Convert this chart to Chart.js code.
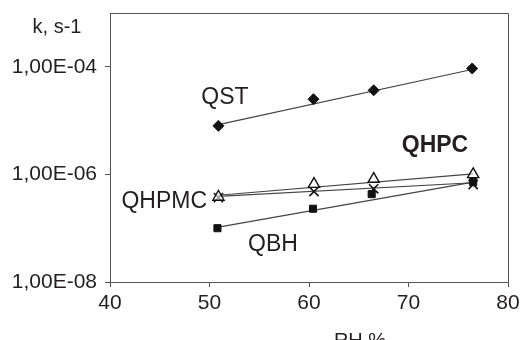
<!DOCTYPE html>
<html>
<head>
<meta charset="utf-8">
<script src="https://cdn.jsdelivr.net/npm/chart.js@4"></script>
<style>
  body { margin: 0; background: #fff; }
</style>
</head>
<body>
<canvas id="rhChart" width="531" height="340"></canvas>
<script>
// RH % values for each sample point
const rhQST = [50.9, 60.45, 66.5, 76.4];
const rhQHPC = [50.9, 60.5, 66.5, 76.5];
const rhQHPMC = [50.9, 60.5, 66.5, 76.5];
const rhQBH = [50.8, 60.4, 66.3, 76.5];

// rate constants k (s-1)
const kQST = [8.0e-6, 2.5e-5, 3.66e-5, 9.3e-5];
const kQHPC = [3.8e-7, 6.6e-7, 8.2e-7, 1.0e-6];
const kQHPMC = [3.7e-7, 4.8e-7, 5.4e-7, 6.5e-7];
const kQBH = [1.0e-7, 2.3e-7, 4.3e-7, 7.2e-7];

// trend lines, first and last point
const trendRH = [50.9, 76.5];
const trendQST = [8.4e-6, 9.0e-5];
const trendQHPC = [4.1e-7, 1.02e-6];
const trendQHPMC = [3.9e-7, 7.0e-7];
const trendQBH = [1.05e-7, 7.2e-7];

const yTickValues = [1e-8, 1e-6, 1e-4];
const yTickLabels = ['1,00E-08', '1,00E-06', '1,00E-04'];

const FONT = '"Liberation Sans", Arial, sans-serif';
const INK = '#231f20';
const AXIS = '#555';

function pts(xs, ys) {
  return xs.map((x, i) => ({ x: x, y: ys[i] }));
}

function trend(ys) {
  return {
    data: pts(trendRH, ys),
    showLine: true,
    borderColor: '#444',
    borderWidth: 1.2,
    pointRadius: 0,
    order: 2
  };
}

// labels drawn on the canvas (series names, axis titles, frame)
const textPlugin = {
  id: 'texts',
  afterDatasetsDraw(chart) {
    const c = chart.ctx;
    const a = chart.chartArea;
    c.save();
    c.strokeStyle = AXIS;
    c.lineWidth = 1;
    c.beginPath();
    c.moveTo(a.left, a.top + 0.5);
    c.lineTo(a.right + 0.5, a.top + 0.5);
    c.lineTo(a.right + 0.5, a.bottom);
    c.stroke();

    c.fillStyle = INK;
    c.textBaseline = 'middle';
    c.textAlign = 'center';
    c.font = '23px ' + FONT;
    c.fillText('QST', 225, 98);
    c.fillText('QBH', 273, 245);
    c.textAlign = 'right';
    c.fillText('QHPMC', 207, 202);
    c.textAlign = 'center';
    c.font = 'bold 23px ' + FONT;
    c.fillText('QHPC', 435, 146);
    c.font = '20px ' + FONT;
    c.fillText('k, s-1', 57, 27);
    c.textBaseline = 'top';
    c.font = '20px ' + FONT;
    c.fillText('RH %', 360, 331);
    c.restore();
  }
};

const ctx = document.getElementById('rhChart').getContext('2d');
const rhChart = new Chart(ctx, {
  type: 'scatter',
  data: {
    datasets: [
      {
        data: pts(rhQST, kQST),
        pointStyle: 'rectRot',
        pointRadius: 5.5,
        backgroundColor: '#111',
        borderColor: '#111',
        borderWidth: 1,
        order: 1
      },
      {
        data: pts(rhQBH, kQBH),
        pointStyle: 'rect',
        pointRadius: 5,
        backgroundColor: '#111',
        borderColor: '#111',
        borderWidth: 1,
        order: 1
      },
      {
        data: pts(rhQHPMC, kQHPMC),
        pointStyle: 'crossRot',
        pointRadius: 6.5,
        backgroundColor: '#111',
        borderColor: '#111',
        borderWidth: 1.6,
        order: 1
      },
      {
        data: pts(rhQHPC, kQHPC),
        pointStyle: 'triangle',
        pointRadius: 6.5,
        backgroundColor: 'rgba(255,255,255,0.6)',
        borderColor: '#111',
        borderWidth: 1.4,
        order: 0
      },
      trend(trendQST),
      trend(trendQHPC),
      trend(trendQHPMC),
      trend(trendQBH)
    ]
  },
  options: {
    responsive: false,
    animation: false,
    layout: { padding: { left: 0, right: 23, top: 13, bottom: 0 } },
    plugins: {
      legend: { display: false },
      tooltip: { enabled: false }
    },
    scales: {
      x: {
        type: 'linear',
        min: 40,
        max: 80,
        ticks: {
          stepSize: 10,
          color: INK,
          font: { family: FONT, size: 21 },
          padding: 4
        },
        grid: { drawOnChartArea: false, tickLength: 5, color: AXIS },
        border: { color: AXIS, width: 1 },
        afterFit(axis) { axis.height = 58; }
      },
      y: {
        type: 'logarithmic',
        min: 1e-8,
        max: 1e-3,
        afterBuildTicks(axis) {
          axis.ticks = yTickValues.map(v => ({ value: v }));
        },
        ticks: {
          color: INK,
          font: { family: FONT, size: 21 },
          padding: 8,
          callback: (v, i) => yTickLabels[i]
        },
        grid: { drawOnChartArea: false, tickLength: 5, color: AXIS },
        border: { color: AXIS, width: 1 },
        afterFit(axis) {
          axis.width = 110;
          axis.paddingTop = 0;
          axis.paddingBottom = 0;
        }
      }
    }
  },
  plugins: [textPlugin]
});
</script>
</body>
</html>
